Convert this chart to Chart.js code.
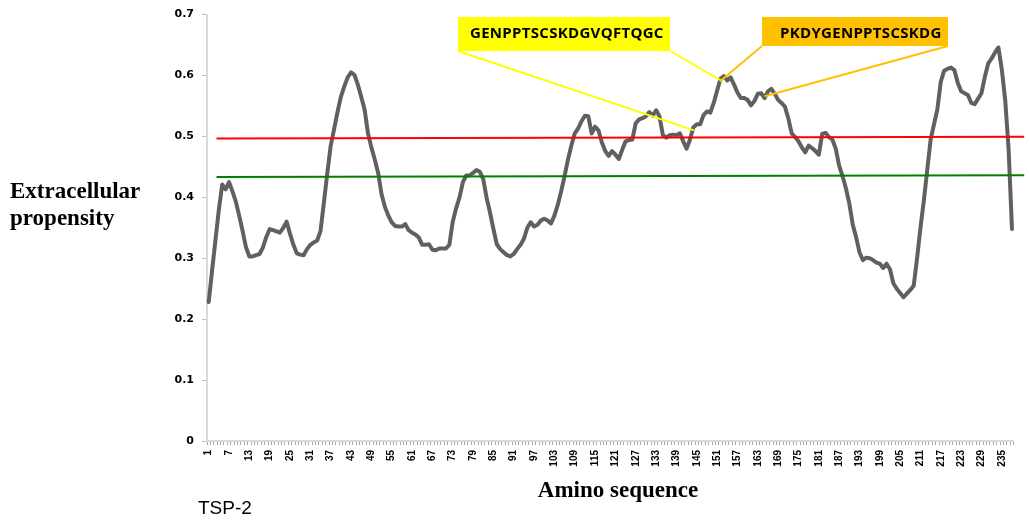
<!DOCTYPE html>
<html>
<head>
<meta charset="utf-8">
<script src="https://cdn.jsdelivr.net/npm/chart.js@4/dist/chart.umd.min.js"></script>
<style>
  html, body { margin: 0; padding: 0; background: #ffffff; }
  #wrap { position: relative; width: 1029px; height: 520px; }
  canvas { display: block; }
</style>
</head>
<body>
<div id="wrap"><canvas id="chart" width="1029" height="520"></canvas></div>
<script>
// Residue positions along the TSP-2 sequence (1 .. 238)
const positions = Array.from({ length: 238 }, (_, i) => String(i + 1));

// Extracellular propensity per residue position
const propensity = [
  0.228, 0.280, 0.330, 0.380, 0.421, 0.413, 0.425, 0.410, 0.393, 0.370,
  0.345, 0.318, 0.303, 0.303, 0.305, 0.307, 0.318, 0.335, 0.348, 0.346,
  0.344, 0.342, 0.350, 0.360, 0.340, 0.322, 0.308, 0.306, 0.305, 0.315,
  0.322, 0.326, 0.329, 0.345, 0.392, 0.440, 0.485, 0.512, 0.540, 0.565,
  0.582, 0.597, 0.605, 0.601, 0.585, 0.565, 0.544, 0.505, 0.482, 0.462,
  0.440, 0.405, 0.384, 0.370, 0.359, 0.353, 0.352, 0.352, 0.356, 0.346,
  0.342, 0.339, 0.334, 0.322, 0.322, 0.323, 0.314, 0.313, 0.316, 0.316,
  0.316, 0.322, 0.360, 0.382, 0.400, 0.425, 0.436, 0.436, 0.440, 0.445,
  0.442, 0.430, 0.399, 0.375, 0.348, 0.323, 0.315, 0.310, 0.305, 0.303,
  0.307, 0.315, 0.322, 0.332, 0.350, 0.359, 0.352, 0.355, 0.362, 0.365,
  0.362, 0.357, 0.370, 0.388, 0.410, 0.435, 0.462, 0.485, 0.505, 0.513,
  0.525, 0.534, 0.533, 0.505, 0.516, 0.510, 0.490, 0.476, 0.468, 0.476,
  0.470, 0.463, 0.478, 0.492, 0.494, 0.495, 0.522, 0.528, 0.530, 0.533,
  0.540, 0.534, 0.543, 0.533, 0.502, 0.498, 0.502, 0.503, 0.502, 0.505,
  0.492, 0.480, 0.495, 0.515, 0.520, 0.520, 0.535, 0.541, 0.539, 0.555,
  0.575, 0.595, 0.599, 0.592, 0.597, 0.585, 0.572, 0.563, 0.563, 0.560,
  0.551, 0.558, 0.570, 0.571, 0.563, 0.574, 0.578, 0.570, 0.560, 0.555,
  0.549, 0.530, 0.505, 0.499, 0.492, 0.482, 0.474, 0.485, 0.481, 0.476,
  0.470, 0.504, 0.506, 0.499, 0.495, 0.480, 0.452, 0.435, 0.415, 0.390,
  0.356, 0.335, 0.310, 0.297, 0.301, 0.300, 0.297, 0.293, 0.291, 0.284,
  0.291, 0.282, 0.259, 0.250, 0.243, 0.236, 0.242, 0.248, 0.255, 0.300,
  0.350, 0.395, 0.445, 0.495, 0.520, 0.545, 0.590, 0.608, 0.611, 0.613,
  0.609, 0.588, 0.574, 0.571, 0.568, 0.555, 0.553, 0.562, 0.571, 0.598,
  0.620, 0.628, 0.638, 0.646, 0.610, 0.560, 0.480, 0.348
];

// Threshold lines: [start position, value] and [end position, value]
const redThreshold = [{ x: 3.3, y: 0.4967 }, { x: 241.6, y: 0.4993 }];
const greenThreshold = [{ x: 3.3, y: 0.4334 }, { x: 241.6, y: 0.4362 }];

// Y axis tick labels
const yTickLabels = ['0', '0.1', '0.2', '0.3', '0.4', '0.5', '0.6', '0.7'];

// Peptide callouts, each with two leader anchors [position, value]
const peptides = ['GENPPTSCSKDGVQFTQGC', 'PKDYGENPPTSCSKDG'];
const peptideAnchors = [
  [[144.2, 0.510], [152.4, 0.591]],
  [[151.8, 0.590], [165.0, 0.566]]
];

// Callout box styling / placement
const calloutStyle = [
  { fill: '#ffff00', line: '#ffff00', box: [458, 17, 670, 51], textX: 470 },
  { fill: '#ffc000', line: '#ffc000', box: [762, 17, 948, 46], textX: 780 }
];

const textPlugin = {
  id: 'freeText',
  afterDatasetsDraw(chart) {
    const ctx = chart.ctx;
    const xs = chart.scales.x2;
    const ys = chart.scales.y;
    ctx.save();
    // leader lines
    peptides.forEach((p, k) => {
      const st = calloutStyle[k];
      const [l, t, r, b] = st.box;
      const a0 = peptideAnchors[k][0], a1 = peptideAnchors[k][1];
      ctx.strokeStyle = st.line;
      ctx.lineWidth = 2;
      ctx.beginPath();
      ctx.moveTo(l, b);
      ctx.lineTo(xs.getPixelForValue(a0[0]), ys.getPixelForValue(a0[1]));
      ctx.moveTo(r, b);
      ctx.lineTo(xs.getPixelForValue(a1[0]), ys.getPixelForValue(a1[1]));
      ctx.stroke();
    });
    // boxes + text
    peptides.forEach((p, k) => {
      const st = calloutStyle[k];
      const [l, t, r, b] = st.box;
      ctx.fillStyle = st.fill;
      ctx.fillRect(l, t, r - l, b - t);
      ctx.fillStyle = '#000000';
      ctx.font = 'bold 15px "Open Sans"';
      ctx.letterSpacing = '0.3px';
      ctx.textBaseline = 'alphabetic';
      ctx.textAlign = 'left';
      ctx.fillText(p, st.textX, 38);
    });
    ctx.letterSpacing = '0px';
    ctx.restore();
  },
  afterDraw(chart) {
    const ctx = chart.ctx;
    ctx.save();
    ctx.fillStyle = '#000000';
    ctx.textBaseline = 'alphabetic';
    ctx.font = 'bold 23px "Liberation Serif"';
    ctx.textAlign = 'left';
    ctx.fillText('Extracellular', 10, 198);
    ctx.fillText('propensity', 10, 225);
    ctx.textAlign = 'center';
    ctx.fillText('Amino sequence', 618, 497);
    ctx.textAlign = 'left';
    ctx.font = '19px "Liberation Sans"';
    ctx.fillText('TSP-2', 198, 514);
    ctx.restore();
  }
};

new Chart(document.getElementById('chart'), {
  type: 'line',
  data: {
    labels: positions,
    datasets: [
      {
        data: redThreshold, xAxisID: 'x2', borderColor: '#ff0000', borderWidth: 2,
        pointRadius: 0, clip: false, order: 0
      },
      {
        data: greenThreshold, xAxisID: 'x2', borderColor: '#008000', borderWidth: 2,
        pointRadius: 0, clip: false, order: 0
      },
      {
        data: propensity, xAxisID: 'x', borderColor: '#606060', borderWidth: 4,
        pointRadius: 0, tension: 0, borderJoinStyle: 'round', borderCapStyle: 'round',
        order: 2
      }
    ]
  },
  options: {
    responsive: false,
    animation: false,
    devicePixelRatio: 1,
    layout: { padding: { top: 13, right: 11, left: 0, bottom: 0 } },
    plugins: { legend: { display: false }, tooltip: { enabled: false } },
    scales: {
      x: {
        type: 'category',
        offset: true,
        grid: { offset: true, drawOnChartArea: false, tickLength: 4, color: '#a6a6a6' },
        border: { color: '#d9d9d9', width: 2 },
        ticks: {
          autoSkip: false, maxRotation: 90, minRotation: 90, padding: 5,
          color: '#000000',
          font: { family: '"Liberation Sans"', size: 10, weight: 'bold' },
          callback: (v, i) => (i % 6 === 0 ? positions[i] : '')
        },
        afterFit: (s) => { s.height = 79; }
      },
      x2: { type: 'linear', display: false, min: 0.5, max: 238.5 },
      y: {
        min: 0, max: 0.7,
        ticks: {
          stepSize: 0.1, padding: 8, color: '#000000',
          font: { family: '"DejaVu Sans"', size: 11, weight: 'bold' },
          callback: (v, i) => yTickLabels[i]
        },
        grid: { drawOnChartArea: false, tickLength: 5, color: '#bfbfbf' },
        border: { color: '#d9d9d9', width: 2 },
        afterFit: (s) => { s.width = 207; }
      }
    }
  },
  plugins: [textPlugin]
});
</script>
</body>
</html>
